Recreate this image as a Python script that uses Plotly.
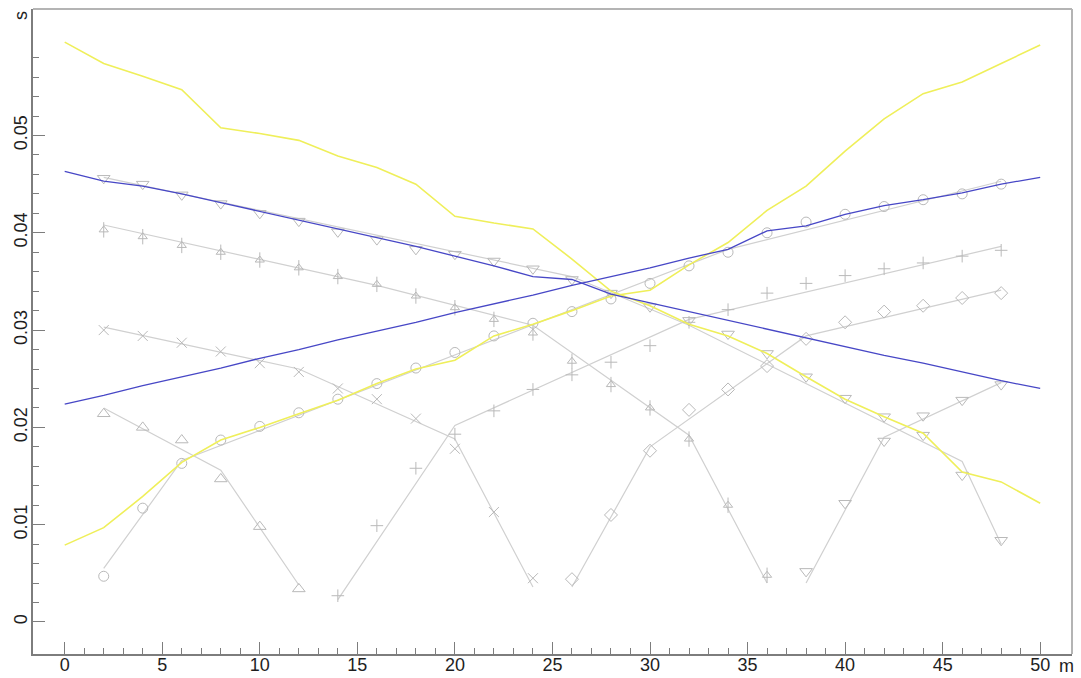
import plotly.graph_objects as go

# Station positions along the line (m)
stations = list(range(0, 51, 2))

# Travel-time curves sampled at every station (s)
yellow_from_end = [0.0596, 0.0574, 0.0561, 0.0547, 0.0508, 0.0502, 0.0495, 0.0479, 0.0467,
                   0.0450, 0.0417, 0.0410, 0.0404, 0.0373, 0.0340, 0.0325, 0.0306, 0.0294,
                   0.0276, 0.0252, 0.0229, 0.0211, 0.0194, 0.0154, 0.0144, 0.0122]
yellow_from_start = [0.0079, 0.0097, 0.0129, 0.0164, 0.0187, 0.0200, 0.0214, 0.0228, 0.0245,
                     0.0260, 0.0269, 0.0294, 0.0306, 0.0320, 0.0335, 0.0341, 0.0367, 0.0390,
                     0.0423, 0.0448, 0.0484, 0.0517, 0.0543, 0.0555, 0.0574, 0.0593]
blue_from_end = [0.0463, 0.0453, 0.0448, 0.0440, 0.0431, 0.0422, 0.0413, 0.0404, 0.0395,
                 0.0386, 0.0376, 0.0366, 0.0355, 0.0352, 0.0337, 0.0328, 0.0319, 0.0310,
                 0.0301, 0.0292, 0.0283, 0.0274, 0.0266, 0.0257, 0.0248, 0.0240]
blue_from_start = [0.0224, 0.0233, 0.0243, 0.0252, 0.0261, 0.0271, 0.0280, 0.0290, 0.0299,
                   0.0308, 0.0318, 0.0327, 0.0336, 0.0346, 0.0355, 0.0364, 0.0374, 0.0383,
                   0.0402, 0.0407, 0.0419, 0.0428, 0.0434, 0.0441, 0.0450, 0.0457]

# Picked arrival times per shot (position m, time s)
tri_up_x = [2, 4, 6, 8, 10, 12]
tri_up_t = [0.0214, 0.0200, 0.0187, 0.0147, 0.0098, 0.0034]

circle_x = list(range(2, 49, 2))
circle_t = [0.0047, 0.0117, 0.0163, 0.0187, 0.0201, 0.0215, 0.0229, 0.0245, 0.0261, 0.0277,
            0.0294, 0.0307, 0.0319, 0.0332, 0.0348, 0.0366, 0.0380, 0.0400, 0.0411, 0.0419,
            0.0427, 0.0434, 0.0440, 0.0450]

cross_x = list(range(2, 25, 2))
cross_t = [0.0300, 0.0294, 0.0287, 0.0278, 0.0266, 0.0257, 0.0240, 0.0229, 0.0209, 0.0178,
           0.0113, 0.0045]

arrow_x = list(range(2, 37, 2))
arrow_t = [0.0403, 0.0396, 0.0387, 0.0380, 0.0372, 0.0364, 0.0355, 0.0347, 0.0335, 0.0323,
           0.0311, 0.0297, 0.0268, 0.0244, 0.0220, 0.0188, 0.0120, 0.0048]

plus_x = list(range(14, 49, 2))
plus_t = [0.0027, 0.0099, 0.0158, 0.0193, 0.0217, 0.0239, 0.0254, 0.0267, 0.0284, 0.0308,
          0.0321, 0.0338, 0.0348, 0.0356, 0.0363, 0.0369, 0.0376, 0.0382]

diamond_x = list(range(26, 49, 2))
diamond_t = [0.0044, 0.0110, 0.0176, 0.0218, 0.0239, 0.0263, 0.0291, 0.0308, 0.0319, 0.0325,
             0.0333, 0.0338]

tri_down_x = list(range(2, 49, 2))
tri_down_t = [0.0456, 0.0450, 0.0439, 0.0430, 0.0420, 0.0412, 0.0401, 0.0393, 0.0383, 0.0378,
              0.0371, 0.0363, 0.0352, 0.0338, 0.0324, 0.0310, 0.0296, 0.0276, 0.0252, 0.0230,
              0.0211, 0.0192, 0.0151, 0.0084]

tri_down2_x = [38, 40, 42, 44, 46, 48]
tri_down2_t = [0.0052, 0.0122, 0.0186, 0.0212, 0.0228, 0.0244]

# Layered-model travel-time lines per shot (vertex position m, time s)
tri_up_fit_x = [2, 8, 12]
tri_up_fit_t = [0.0220, 0.0156, 0.0038]
circle_fit_x = [2, 6, 34, 48]
circle_fit_t = [0.0055, 0.0166, 0.0383, 0.0453]
cross_fit_x = [2, 12, 20, 24]
cross_fit_t = [0.0303, 0.0260, 0.0188, 0.0036]
arrow_fit_x = [2, 16, 24, 32, 36]
arrow_fit_t = [0.0408, 0.0346, 0.0305, 0.0192, 0.0040]
plus_fit_x = [14, 20, 32, 48]
plus_fit_t = [0.0023, 0.0202, 0.0311, 0.0386]
diamond_fit_x = [26, 30, 38, 48]
diamond_fit_t = [0.0036, 0.0180, 0.0294, 0.0341]
tri_down_fit_x = [2, 20, 26, 32, 46, 48]
tri_down_fit_t = [0.0457, 0.0380, 0.0355, 0.0305, 0.0165, 0.0080]
tri_down2_fit_x = [38, 42, 48]
tri_down2_fit_t = [0.0040, 0.0190, 0.0246]

# Axis ticks
x_major = list(range(0, 51, 5))
x_minor = [v for v in range(0, 51) if v % 5 != 0]
y_major = [0.0, 0.01, 0.02, 0.03, 0.04, 0.05]
y_major_text = ["0", "0.01", "0.02", "0.03", "0.04", "0.05"]
y_minor = [round(0.002 * k, 3) for k in range(1, 30) if k % 5 != 0]

GRAY_LINE = "#d0d0d0"
GRAY_MARK = "#b9b9b9"
YELLOW = "#efef5a"
BLUE = "#4747c6"

fig = go.Figure()

fits = [
    (tri_up_fit_x, tri_up_fit_t), (circle_fit_x, circle_fit_t), (cross_fit_x, cross_fit_t),
    (arrow_fit_x, arrow_fit_t), (plus_fit_x, plus_fit_t), (diamond_fit_x, diamond_fit_t),
    (tri_down_fit_x, tri_down_fit_t), (tri_down2_fit_x, tri_down2_fit_t),
]
for fx, ft in fits:
    fig.add_trace(go.Scatter(x=fx, y=ft, mode="lines",
                             line=dict(color=GRAY_LINE, width=1.2), hoverinfo="skip"))

picks = [
    (tri_up_x, tri_up_t, "triangle-up-open", 11),
    (circle_x, circle_t, "circle-open", 10),
    (cross_x, cross_t, "x-thin-open", 10),
    (arrow_x, arrow_t, "triangle-up-open", 8),
    (arrow_x, arrow_t, "line-ns-open", 11),
    (plus_x, plus_t, "cross-thin-open", 9),
    (diamond_x, diamond_t, "diamond-open", 10),
    (tri_down_x, tri_down_t, "triangle-down-open", 11),
    (tri_down2_x, tri_down2_t, "triangle-down-open", 11),
]
for px, pt, sym, size in picks:
    fig.add_trace(go.Scatter(x=px, y=pt, mode="markers",
                             marker=dict(symbol=sym, size=size, color=GRAY_MARK,
                                         line=dict(color=GRAY_MARK, width=1))))

fig.add_trace(go.Scatter(x=stations, y=yellow_from_end, mode="lines",
                         line=dict(color=YELLOW, width=1.6)))
fig.add_trace(go.Scatter(x=stations, y=yellow_from_start, mode="lines",
                         line=dict(color=YELLOW, width=1.6)))
fig.add_trace(go.Scatter(x=stations, y=blue_from_end, mode="lines",
                         line=dict(color=BLUE, width=1.3)))
fig.add_trace(go.Scatter(x=stations, y=blue_from_start, mode="lines",
                         line=dict(color=BLUE, width=1.3)))

tick_font = dict(family="Liberation Sans, Arial, sans-serif", size=18, color="#1e1e1e")
axis_gray = "#7d7d7d"

fig.update_layout(
    width=1081, height=678,
    margin=dict(l=33, r=9, t=9, b=24),
    paper_bgcolor="white", plot_bgcolor="white",
    showlegend=False,
    xaxis=dict(range=[-1.625, 51.63], showgrid=False, zeroline=False, automargin=False,
               showline=True, linecolor=axis_gray, linewidth=1.5,
               tickmode="array", tickvals=x_major, ticks="inside", ticklen=12,
               tickcolor=axis_gray, tickwidth=1.2, tickfont=tick_font,
               ticklabelstandoff=-6,
               minor=dict(tickmode="array", tickvals=x_minor, ticks="inside",
                          ticklen=6, tickcolor=axis_gray, tickwidth=1.2, showgrid=False)),
    yaxis=dict(range=[-0.00329, 0.0630], showgrid=False, zeroline=False, automargin=False,
               showline=True, linecolor=axis_gray, linewidth=1.5,
               tickmode="array", tickvals=y_major, ticktext=y_major_text,
               tickangle=-90, ticks="inside", ticklen=12,
               tickcolor=axis_gray, tickwidth=1.2, tickfont=tick_font,
               ticklabelstandoff=-3,
               minor=dict(tickmode="array", tickvals=y_minor, ticks="inside",
                          ticklen=6, tickcolor=axis_gray, tickwidth=1.2, showgrid=False)),
    shapes=[
        dict(type="line", xref="paper", yref="paper", x0=0, x1=1, y0=1, y1=1,
             line=dict(color="#b4b4b4", width=2)),
        dict(type="line", xref="paper", yref="paper", x0=1, x1=1, y0=0, y1=1,
             line=dict(color="#b4b4b4", width=2)),
    ],
    annotations=[
        dict(text="s", xref="paper", yref="paper", x=0, y=1, xanchor="center",
             yanchor="middle", xshift=-12, yshift=-7, textangle=-90, showarrow=False,
             font=tick_font),
        dict(text="m", xref="x", yref="paper", x=50, y=0, xanchor="center",
             yanchor="middle", xshift=26, yshift=-12, showarrow=False, font=tick_font),
    ],
)

fig.write_html("out.html")
